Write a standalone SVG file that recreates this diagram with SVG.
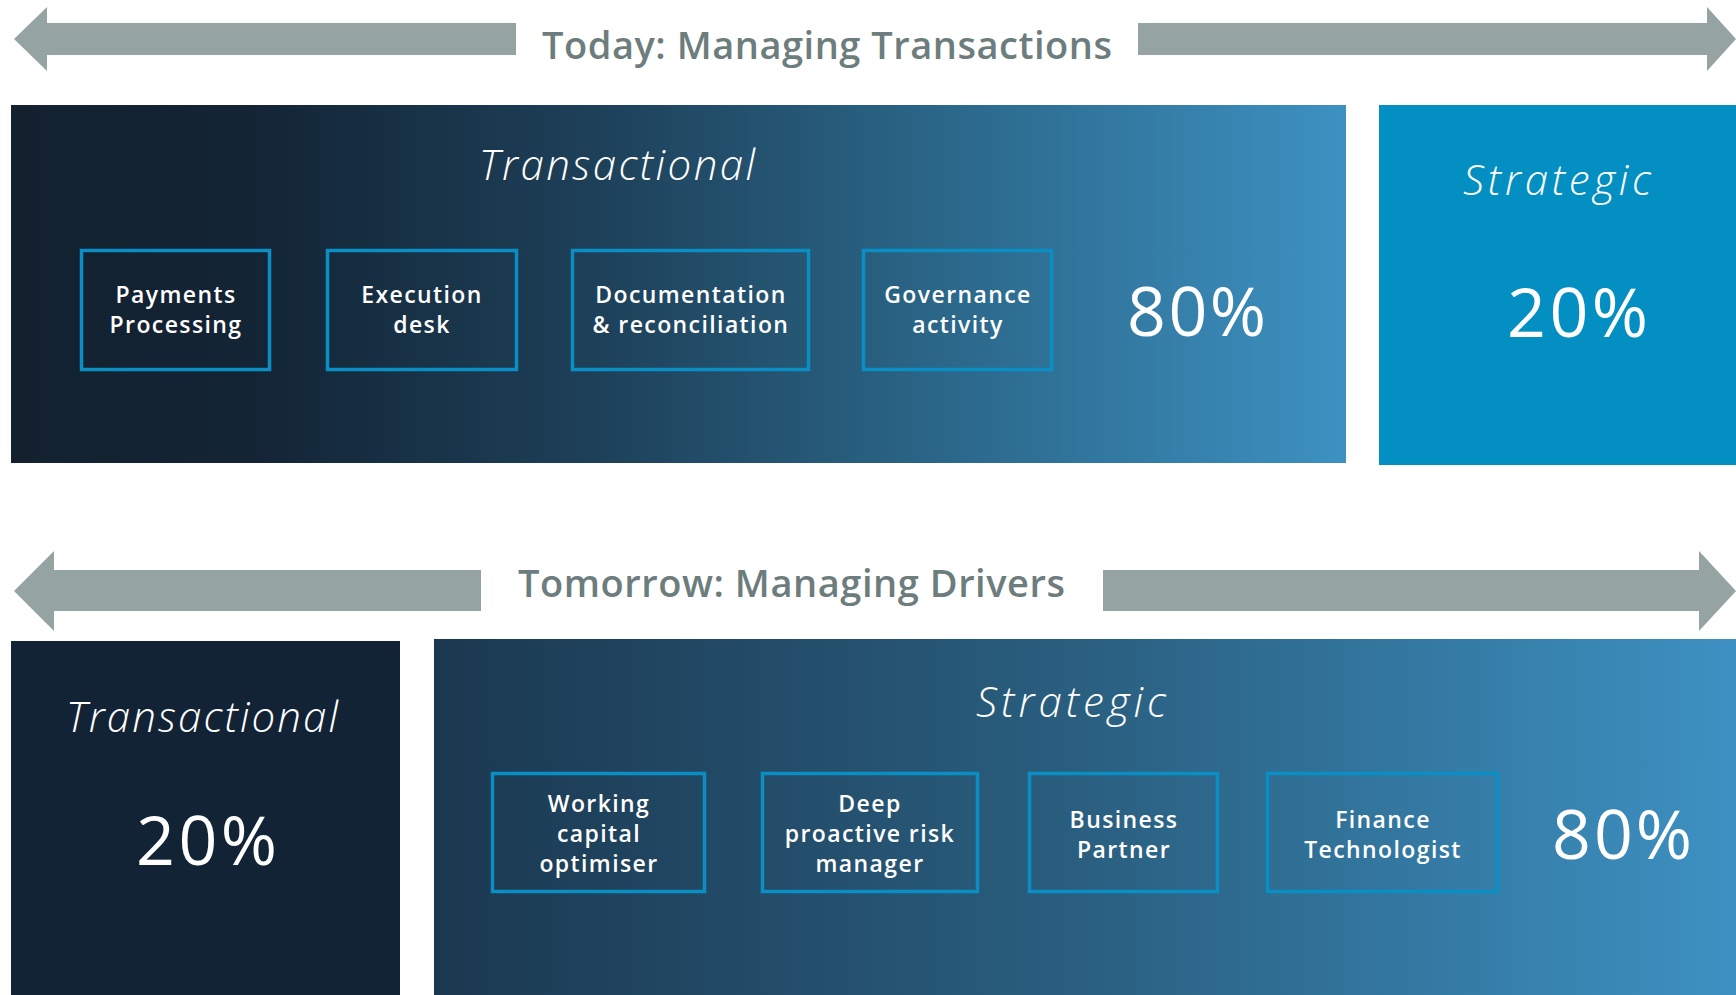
<svg xmlns="http://www.w3.org/2000/svg" width="1736" height="995" viewBox="0 0 1736 995">
<defs>
<linearGradient id="gTop" gradientUnits="userSpaceOnUse" x1="11" y1="0" x2="1346" y2="0">
<stop offset="0" stop-color="#13212f"/>
<stop offset="0.18" stop-color="#132435"/>
<stop offset="0.45" stop-color="#1e425b"/>
<stop offset="0.72" stop-color="#2c6a8d"/>
<stop offset="1" stop-color="#3d91c2"/>
</linearGradient>
<linearGradient id="gBot" gradientUnits="userSpaceOnUse" x1="434" y1="0" x2="1736" y2="0">
<stop offset="0" stop-color="#1b3850"/>
<stop offset="0.5" stop-color="#2a5f80"/>
<stop offset="1" stop-color="#3d91c2"/>
</linearGradient>
<style>
.arrow{fill:#95a3a2}
.head{font-family:"Open Sans","Liberation Sans",sans-serif;font-weight:600;font-size:38px;fill:#6d7d7d}
.box{fill:none;stroke:#0a8ec3;stroke-width:3.5}
.lbl{font-family:"Open Sans","Liberation Sans",sans-serif;font-weight:600;font-size:23px;fill:#ffffff;text-anchor:middle;letter-spacing:1.4px}
.ttl{font-family:"Open Sans","Liberation Sans",sans-serif;font-weight:300;font-style:italic;font-size:42px;fill:#ffffff}
.pct{font-family:"Open Sans","Liberation Sans",sans-serif;font-weight:500;font-size:68px;fill:#ffffff}
</style>
</defs>
<rect width="1736" height="995" fill="#ffffff"/>

<g id="arrows">
<polygon class="arrow" points="14,39 47,7 47,23 516,23 516,55 47,55 47,71"/>
<polygon class="arrow" points="1138,23 1707,23 1707,7 1736,39 1707,71 1707,55 1138,55"/>
<polygon class="arrow" points="14,591 54,551 54,570 481,570 481,611 54,611 54,631"/>
<polygon class="arrow" points="1103,570 1699,570 1699,551 1736,591 1699,631 1699,611 1103,611"/>
</g>

<g id="heading-today">
<text class="head" x="542" y="59" textLength="570" lengthAdjust="spacing">Today: Managing Transactions</text>
</g>
<g id="heading-tomorrow">
<text class="head" x="518" y="597" textLength="547" lengthAdjust="spacing">Tomorrow: Managing Drivers</text>
</g>

<g id="today-transactional">
<rect x="11" y="105" width="1335" height="358" fill="url(#gTop)"/>
<text class="ttl" x="479" y="180" textLength="276" lengthAdjust="spacing">Transactional</text>
<text class="pct" x="1127" y="336" textLength="139" lengthAdjust="spacing">80%</text>
</g>

<g id="today-strategic">
<rect x="1379" y="105" width="357" height="360" fill="#038fc2"/>
<text class="ttl" x="1463" y="195" textLength="188" lengthAdjust="spacing">Strategic</text>
<text class="pct" x="1507" y="337" textLength="141" lengthAdjust="spacing">20%</text>
</g>

<g id="payments-processing">
<rect class="box" x="81.5" y="250.5" width="188" height="119"/>
<text class="lbl" x="176" y="303">Payments</text>
<text class="lbl" x="176" y="333">Processing</text>
</g>
<g id="execution-desk">
<rect class="box" x="327.5" y="250.5" width="189" height="119"/>
<text class="lbl" x="422" y="303">Execution</text>
<text class="lbl" x="422" y="333">desk</text>
</g>
<g id="documentation-reconciliation">
<rect class="box" x="572.5" y="250.5" width="236" height="119"/>
<text class="lbl" x="691" y="303">Documentation</text>
<text class="lbl" x="691" y="333">&amp; reconciliation</text>
</g>
<g id="governance-activity">
<rect class="box" x="863.5" y="250.5" width="188" height="119"/>
<text class="lbl" x="958" y="303">Governance</text>
<text class="lbl" x="958" y="333">activity</text>
</g>

<g id="tomorrow-transactional">
<rect x="11" y="641" width="389" height="354" fill="#132336"/>
<text class="ttl" x="66" y="732" textLength="272" lengthAdjust="spacing">Transactional</text>
<text class="pct" x="136" y="865" textLength="141" lengthAdjust="spacing">20%</text>
</g>

<g id="tomorrow-strategic">
<rect x="434" y="639" width="1302" height="356" fill="url(#gBot)"/>
<text class="ttl" x="976" y="717" textLength="190" lengthAdjust="spacing">Strategic</text>
<text class="pct" x="1552" y="859" textLength="140" lengthAdjust="spacing">80%</text>
</g>

<g id="working-capital-optimiser">
<rect class="box" x="492.5" y="773.5" width="212" height="118"/>
<text class="lbl" x="599" y="812">Working</text>
<text class="lbl" x="599" y="842">capital</text>
<text class="lbl" x="599" y="872">optimiser</text>
</g>
<g id="deep-proactive-risk-manager">
<rect class="box" x="762.5" y="773.5" width="215" height="118"/>
<text class="lbl" x="870" y="812">Deep</text>
<text class="lbl" x="870" y="842">proactive risk</text>
<text class="lbl" x="870" y="872">manager</text>
</g>
<g id="business-partner">
<rect class="box" x="1029.5" y="773.5" width="188" height="118"/>
<text class="lbl" x="1124" y="828">Business</text>
<text class="lbl" x="1124" y="858">Partner</text>
</g>
<g id="finance-technologist">
<rect class="box" x="1267.5" y="773.5" width="230" height="118"/>
<text class="lbl" x="1383" y="828">Finance</text>
<text class="lbl" x="1383" y="858">Technologist</text>
</g>
</svg>
